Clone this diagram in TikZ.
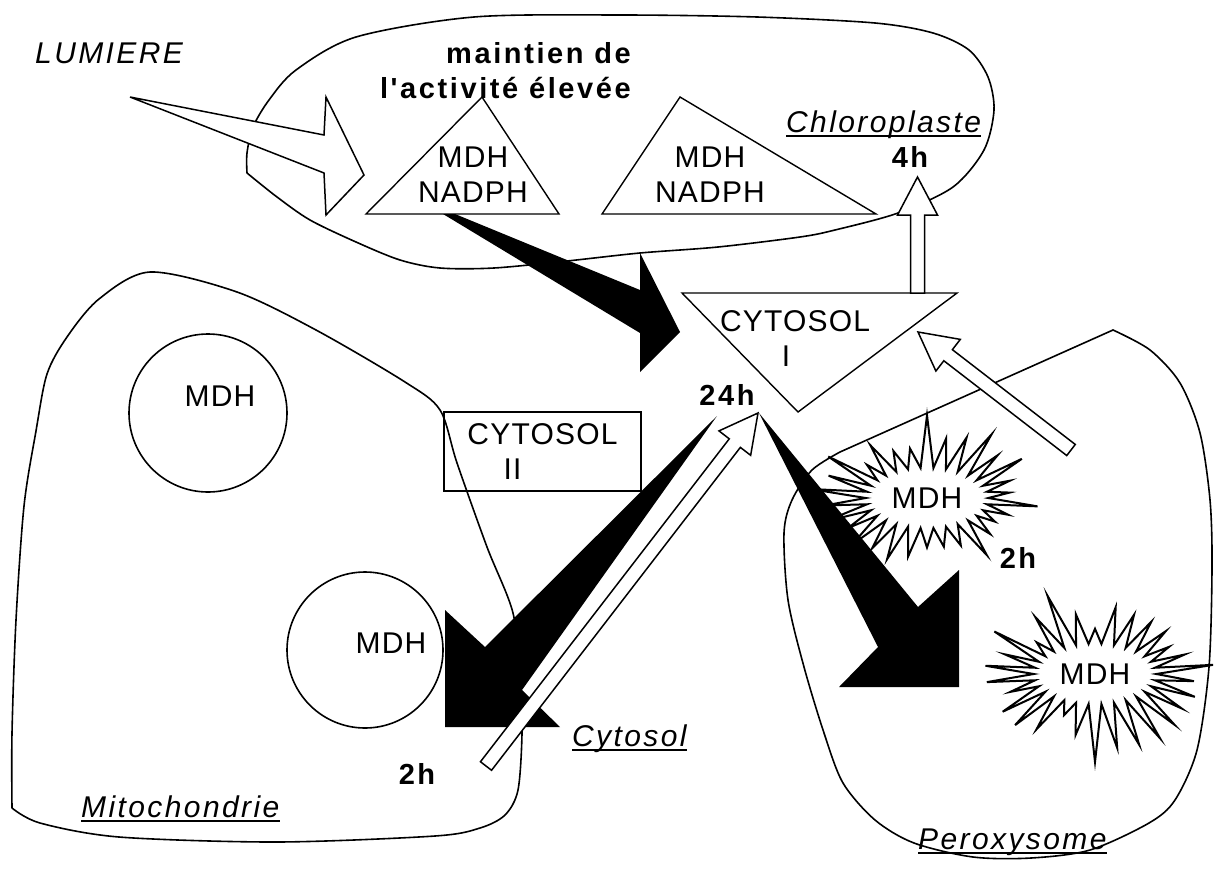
\documentclass[tikz,border=0pt]{standalone}
\usepackage{fontspec}
\setmainfont{Liberation Sans}
\newfontfamily\labfont{Liberation Sans}[LetterSpace=4]
\newfontfamily\itlabfont{Liberation Sans}[LetterSpace=8]
\newfontfamily\boldlabfont{Liberation Sans}[LetterSpace=9]
\usetikzlibrary{calc,shapes.symbols}
\tikzset{
  organelle/.style={draw, line width=1.6pt},
  enzyme/.style={draw, line width=1.4pt, line join=miter},
  lab/.style={font=\labfont\fontsize{30}{35}\selectfont, inner sep=0pt, align=center},
  itlab/.style={font=\itlabfont\itshape\fontsize{30}{32}\selectfont, inner sep=0pt, anchor=base west},
  hours/.style={font=\boldlabfont\bfseries\fontsize{29}{35}\selectfont, inner sep=0pt, anchor=base},
  hollow/.style={draw, fill=white, line width=1.5pt, line join=miter},
  burst/.style={lab, draw, starburst, starburst points=30, starburst point height=58pt,
    line width=2pt, inner xsep=8pt, inner ysep=11pt}
}
\newcommand\hollowarrow[2]{%
  \coordinate (hb) at ($(#2)!38pt!(#1)$);
  \draw[hollow] ($(#1)!7pt!90:(#2)$) -- ($(hb)!7pt!90:(#2)$) -- ($(hb)!20pt!90:(#2)$) -- (#2)
    -- ($(hb)!20pt!-90:(#2)$) -- ($(hb)!7pt!-90:(#2)$) -- ($(#1)!7pt!-90:(#2)$) -- cycle;}

\begin{document}
\begin{tikzpicture}[x=1pt, y=-1pt]
  \useasboundingbox (0,0) rectangle (1214,870);
  \draw[organelle] plot[smooth] coordinates {(247,173) (247,153) (253,127) (269,100) (296,70)
    (356,37) (474,17) (620,15) (757,17) (875,23) (933,33) (969,50) (988,77) (994,110) (984,150)
    (953,187) (898,213) (835,230) (800,237) (718,247) (640,253) (567,261) (494,268) (440,268)
    (400,260) (356,242) (310,220) (277,197) (247,173)};
  \draw[organelle] plot[smooth] coordinates {(12,808) (12,733) (16,620) (24,506) (36,431) (47,374)
    (67,337) (99,299) (150,272) (237,292) (316,330) (405,382) (440,410) (457,463) (487,547)
    (513,613) (520,680) (522,733) (518,790) (505,815) (480,828) (435,836) (277,842) (119,837)
    (40,823) (12,808)};
  \draw[organelle] plot[smooth] coordinates {(1113,330) (1150,350) (1180,383) (1200,433) (1210,500)
    (1212,567) (1209,667) (1197,750) (1175,800) (1149,823) (1090,850) (1031,858) (973,857)
    (914,843) (875,820) (843,783) (824,733) (804,667) (788,600) (784,533) (792,500) (812,470)
    (840,452)} -- cycle;

  \node[itlab] (lum) at (35,63) {LUMIERE};
  \node[hours, align=right, anchor=north east] (maint) at (631,42) {maintien de\\l'activité élevée};
  \draw[hollow] (130,97) -- (324,135) -- (326,97) -- (364,175) -- (326,215) -- (324,173) -- cycle;

  \draw[enzyme] (482,97) -- (366,214) -- (559,214) -- cycle;
  \node[lab] (nadph1) at (473,175) {MDH\\NADPH};
  \draw[enzyme] (680,97) -- (602,214) -- (876,214) -- cycle;
  \node[lab] (nadph2) at (710,175) {MDH\\NADPH};
  \draw[enzyme] (682,293) -- (957,293) -- (798,412) -- cycle;
  \node[lab] (cyt1) at (795,339) {CYTOSOL\\I\hspace*{18pt}};
  \node[lab, organelle, line width=1.4pt, minimum width=197pt, minimum height=79pt] (cyt2)
    at (542.5,451.5) {CYTOSOL\\II\hspace*{60pt}};

  \node[organelle, circle, minimum size=158pt, inner sep=0pt] (mito1) at (208,413) {};
  \node[lab] (mdh1) at ([xshift=12pt, yshift=17pt]mito1.center) {MDH};
  \node[organelle, circle, minimum size=156pt, inner sep=0pt] (mito2) at (365,650) {};
  \node[lab] (mdh2) at ([xshift=26pt, yshift=7pt]mito2.center) {MDH};

  \node[itlab] (chl) at (786,132) {Chloroplaste};
  \node[itlab] (cyl) at (572,746) {Cytosol};
  \node[itlab] (mit) at (81,817) {Mitochondrie};
  \node[itlab] (per) at (918,849) {Peroxysome};
  \foreach \n in {chl,cyl,mit,per}
    \draw[line width=1.5pt] ([yshift=-4pt]\n.base west) -- ([yshift=-4pt]\n.base east);

  \node[hours] (h4) at (910,167) {4h};
  \node[hours] (h24) at (727,405) {24h};
  \node[hours] (h2a) at (417,784) {2h};
  \node[hours] (h2b) at (1018,568) {2h};

  \fill (443,214) -- (455,214) -- (640,290) -- (640,253) -- (680,332) -- (640,372) -- (640,333) -- cycle;
  \fill (717,416) -- (485,647) -- (445,610) -- (445,727) -- (560,727) -- (522,690) -- cycle;
  \fill (759,413) -- (918,607) -- (959,570) -- (959,687) -- (839,687) -- (878,647) -- cycle;

  \coordinate (up0) at (917.5,293);
  \coordinate (up1) at (917.5,177);
  \hollowarrow{up0}{up1}
  \coordinate (px0) at (1071,450);
  \coordinate (px1) at (918,332);
  \hollowarrow{px0}{px1}
  \coordinate (mt0) at (486,766);
  \coordinate (mt1) at (758,413);
  \hollowarrow{mt0}{mt1}

  \node[burst, random starburst=7] (mdh3) at (927,498) {MDH};
  \node[burst, random starburst=23] (mdh4) at (1095,674) {MDH};
\end{tikzpicture}
\end{document}
